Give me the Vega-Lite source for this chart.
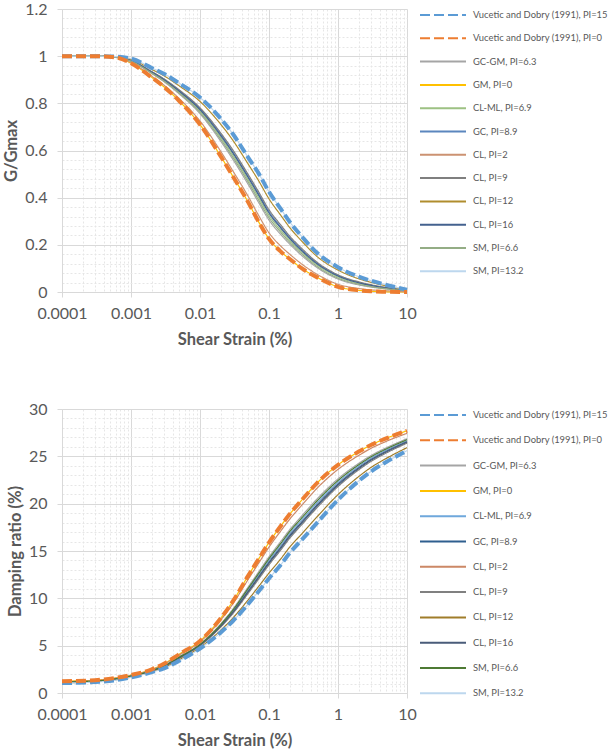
{
"$schema": "https://vega.github.io/schema/vega-lite/v6.json",
"padding": {"left": 3, "top": 1, "right": 0, "bottom": 2},
"background": "white",
"config": {
  "view": {"stroke": null},
  "font": "Lato",
  "axis": {"labelFont": "Lato", "labelFontSize": 16, "labelColor": "#595959", "titleFont": "Lato", "titleFontSize": 16.5, "titleFontWeight": "bold", "titleColor": "#595959", "domainColor": "#D9D9D9", "tickColor": "#D9D9D9", "tickSize": 5, "labelFlush": false, "labelOverlap": false},
  "axisX": {"labelPadding": 8, "titlePadding": 10},
  "axisY": {"labelPadding": 10, "titlePadding": 5},
  "legend": {"title": null, "orient": "right", "offset": 22, "symbolType": "M-4.6,0H4.6", "symbolSize": 100, "symbolStrokeWidth": 2, "labelOffset": 24, "labelFont": "Lato", "labelFontSize": 9.4, "labelColor": "#595959", "padding": 0, "labelLimit": 250}
},
"data": {"values": [
{"s":"Vucetic and Dobry (1991), PI=15","x":0.0001,"g":1,"d":1.05},{"s":"Vucetic and Dobry (1991), PI=15","x":0.0003,"g":1,"d":1.15},{"s":"Vucetic and Dobry (1991), PI=15","x":0.0006,"g":0.998,"d":1.35},{"s":"Vucetic and Dobry (1991), PI=15","x":0.001,"g":0.99,"d":1.65},{"s":"Vucetic and Dobry (1991), PI=15","x":0.002,"g":0.95,"d":2.2},{"s":"Vucetic and Dobry (1991), PI=15","x":0.003,"g":0.925,"d":2.6},{"s":"Vucetic and Dobry (1991), PI=15","x":0.005,"g":0.885,"d":3.4},{"s":"Vucetic and Dobry (1991), PI=15","x":0.01,"g":0.825,"d":4.7},{"s":"Vucetic and Dobry (1991), PI=15","x":0.02,"g":0.735,"d":6.4},{"s":"Vucetic and Dobry (1991), PI=15","x":0.03,"g":0.67,"d":7.6},{"s":"Vucetic and Dobry (1991), PI=15","x":0.05,"g":0.57,"d":9.4},{"s":"Vucetic and Dobry (1991), PI=15","x":0.07,"g":0.505,"d":10.7},{"s":"Vucetic and Dobry (1991), PI=15","x":0.1,"g":0.425,"d":12.1},{"s":"Vucetic and Dobry (1991), PI=15","x":0.15,"g":0.35,"d":13.6},{"s":"Vucetic and Dobry (1991), PI=15","x":0.2,"g":0.297,"d":14.8},{"s":"Vucetic and Dobry (1991), PI=15","x":0.3,"g":0.235,"d":16.2},{"s":"Vucetic and Dobry (1991), PI=15","x":0.5,"g":0.165,"d":18.0},{"s":"Vucetic and Dobry (1991), PI=15","x":1,"g":0.105,"d":20.4},{"s":"Vucetic and Dobry (1991), PI=15","x":2,"g":0.065,"d":22.4},{"s":"Vucetic and Dobry (1991), PI=15","x":3,"g":0.048,"d":23.4},{"s":"Vucetic and Dobry (1991), PI=15","x":5,"g":0.03,"d":24.4},{"s":"Vucetic and Dobry (1991), PI=15","x":10,"g":0.01,"d":25.6},
{"s":"Vucetic and Dobry (1991), PI=0","x":0.0001,"g":1,"d":1.25},{"s":"Vucetic and Dobry (1991), PI=0","x":0.0003,"g":1,"d":1.35},{"s":"Vucetic and Dobry (1991), PI=0","x":0.0006,"g":0.995,"d":1.6},{"s":"Vucetic and Dobry (1991), PI=0","x":0.001,"g":0.97,"d":1.9},{"s":"Vucetic and Dobry (1991), PI=0","x":0.002,"g":0.91,"d":2.5},{"s":"Vucetic and Dobry (1991), PI=0","x":0.003,"g":0.87,"d":3.1},{"s":"Vucetic and Dobry (1991), PI=0","x":0.005,"g":0.81,"d":4.1},{"s":"Vucetic and Dobry (1991), PI=0","x":0.01,"g":0.71,"d":5.5},{"s":"Vucetic and Dobry (1991), PI=0","x":0.02,"g":0.575,"d":7.9},{"s":"Vucetic and Dobry (1991), PI=0","x":0.03,"g":0.49,"d":9.7},{"s":"Vucetic and Dobry (1991), PI=0","x":0.05,"g":0.38,"d":12.4},{"s":"Vucetic and Dobry (1991), PI=0","x":0.07,"g":0.30,"d":14.1},{"s":"Vucetic and Dobry (1991), PI=0","x":0.1,"g":0.225,"d":15.9},{"s":"Vucetic and Dobry (1991), PI=0","x":0.15,"g":0.17,"d":17.7},{"s":"Vucetic and Dobry (1991), PI=0","x":0.2,"g":0.14,"d":18.9},{"s":"Vucetic and Dobry (1991), PI=0","x":0.3,"g":0.10,"d":20.4},{"s":"Vucetic and Dobry (1991), PI=0","x":0.5,"g":0.062,"d":22.2},{"s":"Vucetic and Dobry (1991), PI=0","x":1,"g":0.022,"d":24.1},{"s":"Vucetic and Dobry (1991), PI=0","x":2,"g":0.007,"d":25.5},{"s":"Vucetic and Dobry (1991), PI=0","x":3,"g":0.003,"d":26.2},{"s":"Vucetic and Dobry (1991), PI=0","x":5,"g":0.001,"d":26.9},{"s":"Vucetic and Dobry (1991), PI=0","x":10,"g":0,"d":27.7},
{"s":"GC-GM, PI=6.3","x":0.0001,"g":1,"d":1.17},{"s":"GC-GM, PI=6.3","x":0.0003,"g":1,"d":1.27},{"s":"GC-GM, PI=6.3","x":0.0006,"g":0.996,"d":1.50},{"s":"GC-GM, PI=6.3","x":0.001,"g":0.978,"d":1.80},{"s":"GC-GM, PI=6.3","x":0.002,"g":0.926,"d":2.38},{"s":"GC-GM, PI=6.3","x":0.003,"g":0.892,"d":2.90},{"s":"GC-GM, PI=6.3","x":0.005,"g":0.84,"d":3.82},{"s":"GC-GM, PI=6.3","x":0.01,"g":0.756,"d":5.18},{"s":"GC-GM, PI=6.3","x":0.02,"g":0.639,"d":7.30},{"s":"GC-GM, PI=6.3","x":0.03,"g":0.562,"d":8.86},{"s":"GC-GM, PI=6.3","x":0.05,"g":0.456,"d":11.2},{"s":"GC-GM, PI=6.3","x":0.07,"g":0.382,"d":12.74},{"s":"GC-GM, PI=6.3","x":0.1,"g":0.305,"d":14.38},{"s":"GC-GM, PI=6.3","x":0.15,"g":0.242,"d":16.06},{"s":"GC-GM, PI=6.3","x":0.2,"g":0.203,"d":17.26},{"s":"GC-GM, PI=6.3","x":0.3,"g":0.154,"d":18.72},{"s":"GC-GM, PI=6.3","x":0.5,"g":0.103,"d":20.52},{"s":"GC-GM, PI=6.3","x":1,"g":0.055,"d":22.62},{"s":"GC-GM, PI=6.3","x":2,"g":0.03,"d":24.26},{"s":"GC-GM, PI=6.3","x":3,"g":0.021,"d":25.08},{"s":"GC-GM, PI=6.3","x":5,"g":0.013,"d":25.9},{"s":"GC-GM, PI=6.3","x":10,"g":0.004,"d":26.86},
{"s":"GM, PI=0","x":0.0001,"g":1,"d":1.25},{"s":"GM, PI=0","x":0.0003,"g":1,"d":1.35},{"s":"GM, PI=0","x":0.0006,"g":0.995,"d":1.6},{"s":"GM, PI=0","x":0.001,"g":0.97,"d":1.9},{"s":"GM, PI=0","x":0.002,"g":0.91,"d":2.5},{"s":"GM, PI=0","x":0.003,"g":0.87,"d":3.1},{"s":"GM, PI=0","x":0.005,"g":0.81,"d":4.1},{"s":"GM, PI=0","x":0.01,"g":0.71,"d":5.5},{"s":"GM, PI=0","x":0.02,"g":0.575,"d":7.9},{"s":"GM, PI=0","x":0.03,"g":0.49,"d":9.7},{"s":"GM, PI=0","x":0.05,"g":0.38,"d":12.4},{"s":"GM, PI=0","x":0.07,"g":0.30,"d":14.1},{"s":"GM, PI=0","x":0.1,"g":0.225,"d":15.9},{"s":"GM, PI=0","x":0.15,"g":0.17,"d":17.7},{"s":"GM, PI=0","x":0.2,"g":0.14,"d":18.9},{"s":"GM, PI=0","x":0.3,"g":0.10,"d":20.4},{"s":"GM, PI=0","x":0.5,"g":0.062,"d":22.2},{"s":"GM, PI=0","x":1,"g":0.022,"d":24.1},{"s":"GM, PI=0","x":2,"g":0.007,"d":25.5},{"s":"GM, PI=0","x":3,"g":0.003,"d":26.2},{"s":"GM, PI=0","x":5,"g":0.001,"d":26.9},{"s":"GM, PI=0","x":10,"g":0,"d":27.7},
{"s":"CL-ML, PI=6.9","x":0.0001,"g":1,"d":1.15},{"s":"CL-ML, PI=6.9","x":0.0003,"g":1,"d":1.25},{"s":"CL-ML, PI=6.9","x":0.0006,"g":0.997,"d":1.48},{"s":"CL-ML, PI=6.9","x":0.001,"g":0.98,"d":1.78},{"s":"CL-ML, PI=6.9","x":0.002,"g":0.93,"d":2.35},{"s":"CL-ML, PI=6.9","x":0.003,"g":0.898,"d":2.85},{"s":"CL-ML, PI=6.9","x":0.005,"g":0.848,"d":3.75},{"s":"CL-ML, PI=6.9","x":0.01,"g":0.768,"d":5.10},{"s":"CL-ML, PI=6.9","x":0.02,"g":0.655,"d":7.15},{"s":"CL-ML, PI=6.9","x":0.03,"g":0.58,"d":8.65},{"s":"CL-ML, PI=6.9","x":0.05,"g":0.475,"d":10.9},{"s":"CL-ML, PI=6.9","x":0.07,"g":0.403,"d":12.4},{"s":"CL-ML, PI=6.9","x":0.1,"g":0.325,"d":14.0},{"s":"CL-ML, PI=6.9","x":0.15,"g":0.26,"d":15.65},{"s":"CL-ML, PI=6.9","x":0.2,"g":0.219,"d":16.85},{"s":"CL-ML, PI=6.9","x":0.3,"g":0.168,"d":18.3},{"s":"CL-ML, PI=6.9","x":0.5,"g":0.114,"d":20.1},{"s":"CL-ML, PI=6.9","x":1,"g":0.064,"d":22.25},{"s":"CL-ML, PI=6.9","x":2,"g":0.036,"d":23.95},{"s":"CL-ML, PI=6.9","x":3,"g":0.026,"d":24.8},{"s":"CL-ML, PI=6.9","x":5,"g":0.016,"d":25.65},{"s":"CL-ML, PI=6.9","x":10,"g":0.005,"d":26.65},
{"s":"GC, PI=8.9","x":0.0001,"g":1,"d":1.13},{"s":"GC, PI=8.9","x":0.0003,"g":1,"d":1.23},{"s":"GC, PI=8.9","x":0.0006,"g":0.997,"d":1.46},{"s":"GC, PI=8.9","x":0.001,"g":0.982,"d":1.76},{"s":"GC, PI=8.9","x":0.002,"g":0.933,"d":2.33},{"s":"GC, PI=8.9","x":0.003,"g":0.902,"d":2.81},{"s":"GC, PI=8.9","x":0.005,"g":0.854,"d":3.69},{"s":"GC, PI=8.9","x":0.01,"g":0.777,"d":5.04},{"s":"GC, PI=8.9","x":0.02,"g":0.668,"d":7.03},{"s":"GC, PI=8.9","x":0.03,"g":0.594,"d":8.48},{"s":"GC, PI=8.9","x":0.05,"g":0.49,"d":10.66},{"s":"GC, PI=8.9","x":0.07,"g":0.419,"d":12.13},{"s":"GC, PI=8.9","x":0.1,"g":0.341,"d":13.70},{"s":"GC, PI=8.9","x":0.15,"g":0.274,"d":15.32},{"s":"GC, PI=8.9","x":0.2,"g":0.231,"d":16.52},{"s":"GC, PI=8.9","x":0.3,"g":0.178,"d":17.96},{"s":"GC, PI=8.9","x":0.5,"g":0.122,"d":19.76},{"s":"GC, PI=8.9","x":1,"g":0.07,"d":21.95},{"s":"GC, PI=8.9","x":2,"g":0.041,"d":23.7},{"s":"GC, PI=8.9","x":3,"g":0.029,"d":24.58},{"s":"GC, PI=8.9","x":5,"g":0.018,"d":25.45},{"s":"GC, PI=8.9","x":10,"g":0.006,"d":26.48},
{"s":"CL, PI=2","x":0.0001,"g":1,"d":1.22},{"s":"CL, PI=2","x":0.0003,"g":1,"d":1.32},{"s":"CL, PI=2","x":0.0006,"g":0.995,"d":1.57},{"s":"CL, PI=2","x":0.001,"g":0.973,"d":1.87},{"s":"CL, PI=2","x":0.002,"g":0.915,"d":2.46},{"s":"CL, PI=2","x":0.003,"g":0.877,"d":3.04},{"s":"CL, PI=2","x":0.005,"g":0.82,"d":4.01},{"s":"CL, PI=2","x":0.01,"g":0.725,"d":5.40},{"s":"CL, PI=2","x":0.02,"g":0.596,"d":7.71},{"s":"CL, PI=2","x":0.03,"g":0.513,"d":9.43},{"s":"CL, PI=2","x":0.05,"g":0.405,"d":12.01},{"s":"CL, PI=2","x":0.07,"g":0.327,"d":13.66},{"s":"CL, PI=2","x":0.1,"g":0.251,"d":15.41},{"s":"CL, PI=2","x":0.15,"g":0.193,"d":17.17},{"s":"CL, PI=2","x":0.2,"g":0.16,"d":18.37},{"s":"CL, PI=2","x":0.3,"g":0.118,"d":19.85},{"s":"CL, PI=2","x":0.5,"g":0.075,"d":21.65},{"s":"CL, PI=2","x":1,"g":0.033,"d":23.62},{"s":"CL, PI=2","x":2,"g":0.015,"d":25.1},{"s":"CL, PI=2","x":3,"g":0.009,"d":25.84},{"s":"CL, PI=2","x":5,"g":0.005,"d":26.58},{"s":"CL, PI=2","x":10,"g":0.001,"d":27.43},
{"s":"CL, PI=9","x":0.0001,"g":1,"d":1.13},{"s":"CL, PI=9","x":0.0003,"g":1,"d":1.23},{"s":"CL, PI=9","x":0.0006,"g":0.997,"d":1.45},{"s":"CL, PI=9","x":0.001,"g":0.982,"d":1.75},{"s":"CL, PI=9","x":0.002,"g":0.935,"d":2.31},{"s":"CL, PI=9","x":0.003,"g":0.904,"d":2.79},{"s":"CL, PI=9","x":0.005,"g":0.857,"d":3.67},{"s":"CL, PI=9","x":0.01,"g":0.781,"d":5.00},{"s":"CL, PI=9","x":0.02,"g":0.674,"d":6.97},{"s":"CL, PI=9","x":0.03,"g":0.602,"d":8.40},{"s":"CL, PI=9","x":0.05,"g":0.498,"d":10.54},{"s":"CL, PI=9","x":0.07,"g":0.427,"d":11.99},{"s":"CL, PI=9","x":0.1,"g":0.349,"d":13.54},{"s":"CL, PI=9","x":0.15,"g":0.282,"d":15.16},{"s":"CL, PI=9","x":0.2,"g":0.237,"d":16.36},{"s":"CL, PI=9","x":0.3,"g":0.184,"d":17.80},{"s":"CL, PI=9","x":0.5,"g":0.126,"d":19.60},{"s":"CL, PI=9","x":1,"g":0.073,"d":21.81},{"s":"CL, PI=9","x":2,"g":0.043,"d":23.58},{"s":"CL, PI=9","x":3,"g":0.031,"d":24.46},{"s":"CL, PI=9","x":5,"g":0.019,"d":25.35},{"s":"CL, PI=9","x":10,"g":0.006,"d":26.4},
{"s":"CL, PI=12","x":0.0001,"g":1,"d":1.08},{"s":"CL, PI=12","x":0.0003,"g":1,"d":1.18},{"s":"CL, PI=12","x":0.0006,"g":0.998,"d":1.39},{"s":"CL, PI=12","x":0.001,"g":0.987,"d":1.69},{"s":"CL, PI=12","x":0.002,"g":0.944,"d":2.25},{"s":"CL, PI=12","x":0.003,"g":0.917,"d":2.68},{"s":"CL, PI=12","x":0.005,"g":0.874,"d":3.51},{"s":"CL, PI=12","x":0.01,"g":0.808,"d":4.82},{"s":"CL, PI=12","x":0.02,"g":0.711,"d":6.63},{"s":"CL, PI=12","x":0.03,"g":0.643,"d":7.92},{"s":"CL, PI=12","x":0.05,"g":0.542,"d":9.85},{"s":"CL, PI=12","x":0.07,"g":0.474,"d":11.21},{"s":"CL, PI=12","x":0.1,"g":0.395,"d":12.67},{"s":"CL, PI=12","x":0.15,"g":0.323,"d":14.22},{"s":"CL, PI=12","x":0.2,"g":0.273,"d":15.42},{"s":"CL, PI=12","x":0.3,"g":0.215,"d":16.83},{"s":"CL, PI=12","x":0.5,"g":0.15,"d":18.63},{"s":"CL, PI=12","x":1,"g":0.093,"d":20.96},{"s":"CL, PI=12","x":2,"g":0.056,"d":22.87},{"s":"CL, PI=12","x":3,"g":0.041,"d":23.82},{"s":"CL, PI=12","x":5,"g":0.026,"d":24.78},{"s":"CL, PI=12","x":10,"g":0.009,"d":25.92},
{"s":"CL, PI=16","x":0.0001,"g":1,"d":1.14},{"s":"CL, PI=16","x":0.0003,"g":1,"d":1.24},{"s":"CL, PI=16","x":0.0006,"g":0.997,"d":1.46},{"s":"CL, PI=16","x":0.001,"g":0.981,"d":1.76},{"s":"CL, PI=16","x":0.002,"g":0.932,"d":2.34},{"s":"CL, PI=16","x":0.003,"g":0.90,"d":2.83},{"s":"CL, PI=16","x":0.005,"g":0.851,"d":3.72},{"s":"CL, PI=16","x":0.01,"g":0.773,"d":5.06},{"s":"CL, PI=16","x":0.02,"g":0.663,"d":7.08},{"s":"CL, PI=16","x":0.03,"g":0.589,"d":8.55},{"s":"CL, PI=16","x":0.05,"g":0.485,"d":10.75},{"s":"CL, PI=16","x":0.07,"g":0.413,"d":12.23},{"s":"CL, PI=16","x":0.1,"g":0.335,"d":13.81},{"s":"CL, PI=16","x":0.15,"g":0.269,"d":15.45},{"s":"CL, PI=16","x":0.2,"g":0.226,"d":16.65},{"s":"CL, PI=16","x":0.3,"g":0.174,"d":18.09},{"s":"CL, PI=16","x":0.5,"g":0.119,"d":19.89},{"s":"CL, PI=16","x":1,"g":0.068,"d":22.07},{"s":"CL, PI=16","x":2,"g":0.039,"d":23.80},{"s":"CL, PI=16","x":3,"g":0.028,"d":24.66},{"s":"CL, PI=16","x":5,"g":0.017,"d":25.53},{"s":"CL, PI=16","x":10,"g":0.006,"d":26.55},
{"s":"SM, PI=6.6","x":0.0001,"g":1,"d":1.16},{"s":"SM, PI=6.6","x":0.0003,"g":1,"d":1.26},{"s":"SM, PI=6.6","x":0.0006,"g":0.996,"d":1.49},{"s":"SM, PI=6.6","x":0.001,"g":0.979,"d":1.79},{"s":"SM, PI=6.6","x":0.002,"g":0.928,"d":2.37},{"s":"SM, PI=6.6","x":0.003,"g":0.895,"d":2.88},{"s":"SM, PI=6.6","x":0.005,"g":0.844,"d":3.79},{"s":"SM, PI=6.6","x":0.01,"g":0.762,"d":5.14},{"s":"SM, PI=6.6","x":0.02,"g":0.647,"d":7.23},{"s":"SM, PI=6.6","x":0.03,"g":0.571,"d":8.76},{"s":"SM, PI=6.6","x":0.05,"g":0.466,"d":11.05},{"s":"SM, PI=6.6","x":0.07,"g":0.392,"d":12.57},{"s":"SM, PI=6.6","x":0.1,"g":0.315,"d":14.19},{"s":"SM, PI=6.6","x":0.15,"g":0.251,"d":15.86},{"s":"SM, PI=6.6","x":0.2,"g":0.211,"d":17.06},{"s":"SM, PI=6.6","x":0.3,"g":0.161,"d":18.51},{"s":"SM, PI=6.6","x":0.5,"g":0.108,"d":20.31},{"s":"SM, PI=6.6","x":1,"g":0.059,"d":22.44},{"s":"SM, PI=6.6","x":2,"g":0.033,"d":24.11},{"s":"SM, PI=6.6","x":3,"g":0.023,"d":24.94},{"s":"SM, PI=6.6","x":5,"g":0.014,"d":25.78},{"s":"SM, PI=6.6","x":10,"g":0.005,"d":26.76},
{"s":"SM, PI=13.2","x":0.0001,"g":1,"d":1.05},{"s":"SM, PI=13.2","x":0.0003,"g":1,"d":1.15},{"s":"SM, PI=13.2","x":0.0006,"g":0.998,"d":1.35},{"s":"SM, PI=13.2","x":0.001,"g":0.99,"d":1.65},{"s":"SM, PI=13.2","x":0.002,"g":0.95,"d":2.2},{"s":"SM, PI=13.2","x":0.003,"g":0.925,"d":2.6},{"s":"SM, PI=13.2","x":0.005,"g":0.885,"d":3.4},{"s":"SM, PI=13.2","x":0.01,"g":0.825,"d":4.7},{"s":"SM, PI=13.2","x":0.02,"g":0.735,"d":6.4},{"s":"SM, PI=13.2","x":0.03,"g":0.67,"d":7.6},{"s":"SM, PI=13.2","x":0.05,"g":0.57,"d":9.4},{"s":"SM, PI=13.2","x":0.07,"g":0.505,"d":10.7},{"s":"SM, PI=13.2","x":0.1,"g":0.425,"d":12.1},{"s":"SM, PI=13.2","x":0.15,"g":0.35,"d":13.6},{"s":"SM, PI=13.2","x":0.2,"g":0.297,"d":14.8},{"s":"SM, PI=13.2","x":0.3,"g":0.235,"d":16.2},{"s":"SM, PI=13.2","x":0.5,"g":0.165,"d":18.0},{"s":"SM, PI=13.2","x":1,"g":0.105,"d":20.4},{"s":"SM, PI=13.2","x":2,"g":0.065,"d":22.4},{"s":"SM, PI=13.2","x":3,"g":0.048,"d":23.4},{"s":"SM, PI=13.2","x":5,"g":0.03,"d":24.4},{"s":"SM, PI=13.2","x":10,"g":0.01,"d":25.6}
]},
"bounds": "flush",
"spacing": 117,
"resolve": {"scale": {"color": "independent", "strokeDash": "independent"}},
"vconcat": [
{
  "width": 345, "height": 283,
  "encoding": {
    "x": {"field": "x", "type": "quantitative", "title": "Shear Strain (%)",
      "scale": {"type": "log", "domain": [0.0001, 10], "nice": false},
      "axis": {"values": [0.0001,0.0002,0.0003,0.0004,0.0005,0.0006,0.0007,0.0008,0.0009,0.001,0.002,0.003,0.004,0.005,0.006,0.007,0.008,0.009,0.01,0.02,0.03,0.04,0.05,0.06,0.07,0.08,0.09,0.1,0.2,0.3,0.4,0.5,0.6,0.7,0.8,0.9,1,2,3,4,5,6,7,8,9,10],
        "labelExpr": "indexof([0.0001,0.001,0.01,0.1,1,10], datum.value) >= 0 ? '' + datum.value : ''",
        "gridColor": {"condition": {"test": "indexof([0.0001,0.001,0.01,0.1,1,10], datum.value) >= 0", "value": "#D9D9D9"}, "value": "#E6E6E6"},
        "gridDash": {"condition": {"test": "indexof([0.0001,0.001,0.01,0.1,1,10], datum.value) >= 0", "value": []}, "value": [2, 2]},
        "tickOpacity": {"condition": {"test": "indexof([0.0001,0.001,0.01,0.1,1,10], datum.value) >= 0", "value": 1}, "value": 0}}},
    "y": {"field": "g", "type": "quantitative", "title": "G/Gmax",
      "scale": {"domain": [0, 1.2], "nice": false},
      "axis": {"values": [0,0.04,0.08,0.12,0.16,0.2,0.24,0.28,0.32,0.36,0.4,0.44,0.48,0.52,0.56,0.6,0.64,0.68,0.72,0.76,0.8,0.84,0.88,0.92,0.96,1,1.04,1.08,1.12,1.16,1.2],
        "labelExpr": "abs(datum.value * 5 - round(datum.value * 5)) < 0.001 ? '' + datum.value : ''",
        "gridColor": {"condition": {"test": "abs(datum.value * 5 - round(datum.value * 5)) < 0.001", "value": "#D9D9D9"}, "value": "#E6E6E6"},
        "gridDash": {"condition": {"test": "abs(datum.value * 5 - round(datum.value * 5)) < 0.001", "value": []}, "value": [2, 2]},
        "tickOpacity": {"condition": {"test": "abs(datum.value * 5 - round(datum.value * 5)) < 0.001", "value": 1}, "value": 0}}},
    "color": {"field": "s", "type": "nominal",
      "scale": {"domain": ["Vucetic and Dobry (1991), PI=15","Vucetic and Dobry (1991), PI=0","GC-GM, PI=6.3","GM, PI=0","CL-ML, PI=6.9","GC, PI=8.9","CL, PI=2","CL, PI=9","CL, PI=12","CL, PI=16","SM, PI=6.6","SM, PI=13.2"],
        "range": ["#5B9BD5","#ED7D31","#A5A5A5","#FFC000","#9DC183","#5B86BE","#CC9272","#7F7F7F","#B08D2E","#44628F","#94AD85","#BDD7EE"]},
      "legend": {"rowPadding": 12.3}},
    "strokeDash": {"field": "s", "type": "nominal",
      "scale": {"domain": ["Vucetic and Dobry (1991), PI=15","Vucetic and Dobry (1991), PI=0","GC-GM, PI=6.3","GM, PI=0","CL-ML, PI=6.9","GC, PI=8.9","CL, PI=2","CL, PI=9","CL, PI=12","CL, PI=16","SM, PI=6.6","SM, PI=13.2"],
        "range": [[10,4],[10,4],[1,0],[1,0],[1,0],[1,0],[1,0],[1,0],[1,0],[1,0],[1,0],[1,0]]},
      "legend": {"rowPadding": 12.3}}
  },
  "layer": [
    {"transform": [{"filter": "indexof(datum.s, 'Vucetic') != 0"}], "mark": {"type": "line", "interpolate": "monotone", "strokeWidth": 1.2}},
    {"transform": [{"filter": "indexof(datum.s, 'Vucetic') == 0"}], "mark": {"type": "line", "interpolate": "monotone", "strokeCap": "butt", "strokeWidth": 4}}
  ]
},
{
  "width": 345, "height": 284,
  "encoding": {
    "x": {"field": "x", "type": "quantitative", "title": "Shear Strain (%)",
      "scale": {"type": "log", "domain": [0.0001, 10], "nice": false},
      "axis": {"values": [0.0001,0.0002,0.0003,0.0004,0.0005,0.0006,0.0007,0.0008,0.0009,0.001,0.002,0.003,0.004,0.005,0.006,0.007,0.008,0.009,0.01,0.02,0.03,0.04,0.05,0.06,0.07,0.08,0.09,0.1,0.2,0.3,0.4,0.5,0.6,0.7,0.8,0.9,1,2,3,4,5,6,7,8,9,10],
        "labelExpr": "indexof([0.0001,0.001,0.01,0.1,1,10], datum.value) >= 0 ? '' + datum.value : ''",
        "gridColor": {"condition": {"test": "indexof([0.0001,0.001,0.01,0.1,1,10], datum.value) >= 0", "value": "#D9D9D9"}, "value": "#E6E6E6"},
        "gridDash": {"condition": {"test": "indexof([0.0001,0.001,0.01,0.1,1,10], datum.value) >= 0", "value": []}, "value": [2, 2]},
        "tickOpacity": {"condition": {"test": "indexof([0.0001,0.001,0.01,0.1,1,10], datum.value) >= 0", "value": 1}, "value": 0}}},
    "y": {"field": "d", "type": "quantitative", "title": "Damping ratio (%)",
      "scale": {"domain": [0, 30], "nice": false},
      "axis": {"values": [0,1,2,3,4,5,6,7,8,9,10,11,12,13,14,15,16,17,18,19,20,21,22,23,24,25,26,27,28,29,30],
        "labelExpr": "datum.value % 5 == 0 ? '' + datum.value : ''",
        "gridColor": {"condition": {"test": "datum.value % 5 == 0", "value": "#D9D9D9"}, "value": "#E6E6E6"},
        "gridDash": {"condition": {"test": "datum.value % 5 == 0", "value": []}, "value": [2, 2]},
        "tickOpacity": {"condition": {"test": "datum.value % 5 == 0", "value": 1}, "value": 0}}},
    "color": {"field": "s", "type": "nominal",
      "scale": {"domain": ["Vucetic and Dobry (1991), PI=15","Vucetic and Dobry (1991), PI=0","GC-GM, PI=6.3","GM, PI=0","CL-ML, PI=6.9","GC, PI=8.9","CL, PI=2","CL, PI=9","CL, PI=12","CL, PI=16","SM, PI=6.6","SM, PI=13.2"],
        "range": ["#5B9BD5","#ED7D31","#A5A5A5","#FFC000","#6FA8DC","#2F5F8F","#CC8866","#808080","#A07D2A","#4A5C7A","#4E7A34","#BDD7EE"]},
      "legend": {"rowPadding": 14.3}},
    "strokeDash": {"field": "s", "type": "nominal",
      "scale": {"domain": ["Vucetic and Dobry (1991), PI=15","Vucetic and Dobry (1991), PI=0","GC-GM, PI=6.3","GM, PI=0","CL-ML, PI=6.9","GC, PI=8.9","CL, PI=2","CL, PI=9","CL, PI=12","CL, PI=16","SM, PI=6.6","SM, PI=13.2"],
        "range": [[10,4],[10,4],[1,0],[1,0],[1,0],[1,0],[1,0],[1,0],[1,0],[1,0],[1,0],[1,0]]},
      "legend": {"rowPadding": 14.3}}
  },
  "layer": [
    {"transform": [{"filter": "indexof(datum.s, 'Vucetic') != 0"}], "mark": {"type": "line", "interpolate": "monotone", "strokeWidth": 1.2}},
    {"transform": [{"filter": "indexof(datum.s, 'Vucetic') == 0"}], "mark": {"type": "line", "interpolate": "monotone", "strokeCap": "butt", "strokeWidth": 4}}
  ]
}
]
}
